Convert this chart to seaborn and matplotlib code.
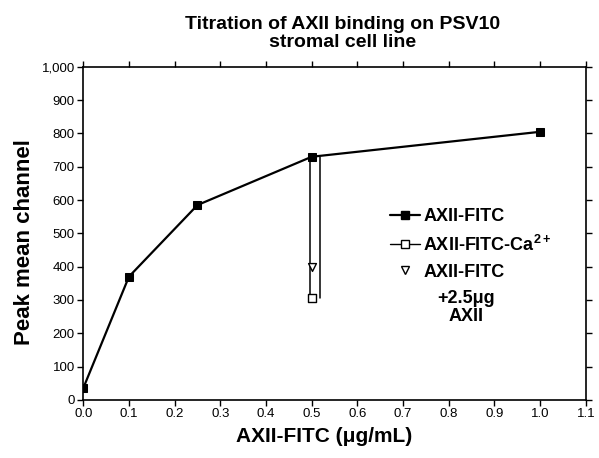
import numpy as np
import pandas as pd
import seaborn as sns
import matplotlib.pyplot as plt
import matplotlib.transforms as mtransforms
from matplotlib.lines import Line2D

# dados
conc = [0.0, 0.1, 0.25, 0.5, 1.0]
canal = [35, 370, 585, 730, 805]
conc_ca = [0.5]
canal_ca = [305]
conc_inib = [0.5]
canal_inib = [400]

sns.set_style("ticks")
plt.rcParams['font.family'] = ['Liberation Sans', 'DejaVu Sans']
plt.rcParams['mathtext.fontset'] = 'custom'
plt.rcParams['mathtext.rm'] = 'Liberation Sans:bold'
plt.rcParams['mathtext.default'] = 'rm'
for k in ['text.color', 'axes.labelcolor', 'xtick.color', 'ytick.color', 'axes.edgecolor']:
    plt.rcParams[k] = 'black'

df = pd.DataFrame({'conc': conc, 'canal': canal})

fig = plt.figure(figsize=(5.99, 4.58), dpi=100)
ax = fig.add_axes([0.139, 0.127, 0.839, 0.727])

sns.lineplot(x='conc', y='canal', data=df, ax=ax, color='black', lw=1.6,
             marker='s', markersize=6, markeredgecolor='black', zorder=3)

# linhas verticais de 0.5 até o ponto Ca2+ (ligeiramente deslocadas)
off_l = mtransforms.offset_copy(ax.transData, fig=fig, x=-1.5, y=0, units='dots')
off_r = mtransforms.offset_copy(ax.transData, fig=fig, x=8, y=0, units='dots')
ax.plot([conc_ca[0], conc_ca[0]], [canal[3], canal_ca[0]], color='black', lw=1.1,
        transform=off_l, zorder=2)
ax.plot([conc_ca[0], conc_ca[0]], [canal[3], canal_ca[0]], color='black', lw=1.1,
        transform=off_r, zorder=2)

sns.scatterplot(x=conc_ca, y=canal_ca, ax=ax, marker='s', s=36, facecolor='white',
                edgecolor='black', linewidth=1, zorder=4)
sns.scatterplot(x=conc_inib, y=canal_inib, ax=ax, marker='v', s=32, facecolor='white',
                edgecolor='black', linewidth=1, zorder=4)

ax.set_xlim(0, 1.1)
ax.set_ylim(0, 1000)
ax.set_xticks(np.arange(0, 1.101, 0.1))
ax.set_xticklabels([f"{v:.1f}" for v in np.arange(0, 1.101, 0.1)])
ax.set_yticks(np.arange(0, 1001, 100))
ax.set_yticklabels([f"{v:,}" for v in range(0, 1001, 100)])
ax.tick_params(axis='both', labelsize=9.5, direction='out', length=4, width=1,
               top=True, right=True, pad=2, colors='black')
for s in ax.spines.values():
    s.set_linewidth(1.2)
    s.set_color('black')
    s.set_visible(True)

ax.set_xlabel("AXII-FITC (μg/mL)", fontsize=15, fontweight='bold', labelpad=5, x=0.479)
ax.set_ylabel("Peak mean channel", fontsize=16, fontweight='bold', labelpad=5, y=0.475)
ax.set_title("Titration of AXII binding on PSV10\nstromal cell line", fontsize=14,
             fontweight='bold', pad=14, x=0.515, linespacing=1.1)

handles = [
    Line2D([], [], color='black', lw=1.6, marker='s', markersize=6),
    Line2D([], [], color='black', lw=1, marker='s', markersize=6, markerfacecolor='white'),
    Line2D([], [], color='none', marker='v', markersize=5.5, markerfacecolor='white',
           markeredgecolor='black'),
]
labels = ["AXII-FITC", "AXII-FITC-Ca$^{2+}$", "AXII-FITC"]
leg = ax.legend(handles, labels, loc='upper left', bbox_to_anchor=(0.61, 0.575),
                frameon=False, handlelength=1.65, handletextpad=0.2, borderpad=0,
                borderaxespad=0, prop={'weight': 'bold', 'size': 13}, labelspacing=0.5)

ax.text(0.761, 0.278, "+2.5μg\nAXII", transform=ax.transAxes, ha='center', va='center',
        fontsize=13, fontweight='bold', linespacing=1.1)

plt.savefig('out.png', dpi=100)
